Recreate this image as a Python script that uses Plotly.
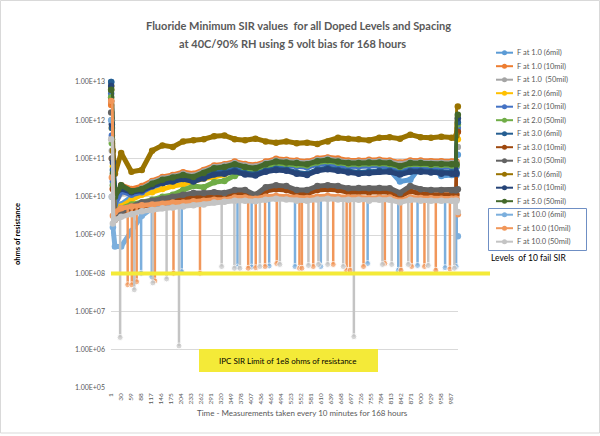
import plotly.graph_objects as go

W, H = 600, 436

# ---------------- data ----------------
MEAS = [1, 3, 6, 12, 30, 60, 90, 120, 150, 180, 210, 240, 270, 300, 330, 360, 390, 420, 450, 480,
        510, 540, 570, 600, 630, 660, 690, 720, 750, 780, 810, 840, 870, 900, 930, 960, 990, 1000, 1004, 1008]

f1_6mil = [1.0e13, 1.0e12, 3.2e10, 3.2e9, 6.3e9, 1.0e10, 1.26e10, 1.6e10, 2.2e10, 2.8e10,
           3.2e10, 3.2e10, 3.8e10, 5.0e10, 5.2e10, 6.3e10, 5.2e10, 5.0e10, 6.3e10, 7.1e10,
           6.9e10, 6.3e10, 6.0e10, 7.1e10, 7.6e10, 6.9e10, 6.3e10, 6.3e10, 6.6e10, 6.6e10,
           5.0e10, 2.5e10, 2.8e10, 6.3e10, 6.3e10, 3.5e10, 3.7e10, 3.7e10, 3.7e10, 1.26e11]
f1_10mil = [2.5e12, 1.0e11, 1.6e10, 7.9e9, 2.0e10, 1.6e10, 1.9e10, 2.6e10, 3.3e10, 3.7e10,
            4.4e10, 4.0e10, 5.0e10, 6.6e10, 7.1e10, 8.3e10, 7.2e10, 6.8e10, 8.3e10, 9.8e10,
            9.3e10, 8.9e10, 8.3e10, 1.0e11, 1.07e11, 1.0e11, 8.9e10, 8.9e10, 9.3e10, 9.3e10,
            8.9e10, 7.9e10, 8.9e10, 8.9e10, 8.5e10, 8.5e10, 8.3e10, 8.3e10, 8.3e10, 5.0e11]
f1_50mil = [4.0e12, 1.6e11, 2.0e10, 6.3e9, 1.26e10, 1.26e10, 1.66e10, 2.4e10, 3.0e10, 3.4e10,
            4.0e10, 3.6e10, 4.6e10, 6.0e10, 6.6e10, 7.6e10, 6.6e10, 6.2e10, 7.6e10, 8.9e10,
            8.5e10, 8.1e10, 7.6e10, 9.1e10, 9.8e10, 8.9e10, 8.1e10, 8.1e10, 8.5e10, 8.5e10,
            8.1e10, 7.2e10, 8.1e10, 8.1e10, 7.8e10, 7.8e10, 7.6e10, 7.6e10, 7.6e10, 2.0e11]
f2_6mil = [7.9e12, 6.3e11, 6.3e10, 5.0e9, 5.6e9, 8.3e9, 1.12e10, 1.32e10, 1.6e10, 1.9e10,
           2.1e10, 2.6e10, 3.0e10, 3.3e10, 3.8e10, 5.2e10, 5.5e10, 5.2e10, 6.8e10, 7.9e10,
           7.6e10, 7.2e10, 6.8e10, 8.1e10, 8.7e10, 7.9e10, 7.2e10, 7.2e10, 7.6e10, 7.6e10,
           7.2e10, 6.3e10, 7.2e10, 7.2e10, 6.9e10, 6.9e10, 6.8e10, 6.8e10, 6.8e10, 3.2e11]
f2_10mil = [5.0e12, 4.0e11, 2.5e10, 6.3e9, 1.4e10, 1.12e10, 1.32e10, 1.86e10, 2.3e10, 2.6e10,
            3.1e10, 2.75e10, 3.5e10, 4.7e10, 5.0e10, 5.9e10, 5.0e10, 4.7e10, 5.9e10, 6.9e10,
            6.6e10, 6.3e10, 5.9e10, 7.1e10, 7.6e10, 6.9e10, 6.3e10, 6.3e10, 6.6e10, 6.6e10,
            6.3e10, 5.2e10, 6.3e10, 6.3e10, 6.0e10, 6.0e10, 5.9e10, 5.9e10, 5.9e10, 6.3e11]
f2_50mil = [4.0e12, 2.5e11, 2.0e10, 4.0e9, 5.0e9, 6.3e9, 7.1e9, 8.3e9, 1.0e10, 1.12e10,
            1.5e10, 1.9e10, 1.78e10, 2.4e10, 2.6e10, 3.5e10, 5.0e10, 5.0e10, 6.3e10, 7.6e10,
            7.2e10, 6.9e10, 6.6e10, 7.9e10, 8.5e10, 7.8e10, 7.1e10, 7.1e10, 7.4e10, 7.4e10,
            7.1e10, 6.0e10, 7.1e10, 7.1e10, 6.8e10, 6.8e10, 6.6e10, 6.6e10, 6.6e10, 7.9e11]
f3_6mil = [1.0e13, 6.3e11, 5.0e10, 1.1e10, 1.7e10, 1.4e10, 1.55e10, 2.0e10, 2.5e10, 2.7e10,
           3.1e10, 2.7e10, 3.2e10, 4.1e10, 4.3e10, 4.9e10, 4.1e10, 3.9e10, 4.8e10, 5.4e10,
           5.1e10, 4.3e10, 4.0e10, 5.1e10, 5.6e10, 5.1e10, 4.6e10, 4.3e10, 4.5e10, 4.8e10,
           4.8e10, 4.1e10, 4.8e10, 4.8e10, 4.6e10, 4.3e10, 4.3e10, 4.3e10, 4.3e10, 8.9e11]
f3_10mil = [3.2e12, 3.2e11, 1.6e10, 2.5e9, 3.2e9, 4.5e9, 5.6e9, 6.3e9, 7.1e9, 7.9e9,
            8.9e9, 1.0e10, 1.0e10, 1.05e10, 1.0e10, 1.2e10, 1.2e10, 9.5e9, 1.4e10, 1.58e10,
            1.5e10, 1.2e10, 1.2e10, 1.5e10, 1.58e10, 1.5e10, 1.32e10, 1.35e10, 1.32e10, 1.35e10,
            1.32e10, 1.05e10, 1.4e10, 1.2e10, 1.15e10, 1.15e10, 1.12e10, 1.12e10, 1.12e10, 5.0e11]
f3_50mil = [1.6e12, 1.0e11, 1.0e10, 3.2e9, 4.0e9, 5.6e9, 7.1e9, 7.9e9, 8.9e9, 1.0e10,
            1.12e10, 1.26e10, 1.26e10, 1.32e10, 1.26e10, 1.5e10, 1.5e10, 1.12e10, 1.78e10, 2.0e10,
            1.9e10, 1.5e10, 1.5e10, 1.9e10, 2.0e10, 1.9e10, 1.66e10, 1.7e10, 1.66e10, 1.7e10,
            1.66e10, 1.26e10, 1.9e10, 1.58e10, 1.5e10, 1.5e10, 1.48e10, 1.48e10, 1.48e10, 1.58e10]
f5_6mil = [6.3e12, 1.0e12, 1.6e11, 4.0e10, 1.4e11, 4.5e10, 5.0e10, 1.6e11, 2.2e11, 2.0e11,
           2.8e11, 3.0e11, 3.2e11, 3.8e11, 4.0e11, 3.2e11, 3.0e11, 3.3e11, 2.8e11, 2.6e11,
           2.8e11, 2.5e11, 2.6e11, 2.4e11, 2.8e11, 3.5e11, 3.3e11, 3.2e11, 3.0e11, 3.5e11,
           3.6e11, 3.3e11, 4.2e11, 3.6e11, 3.5e11, 3.7e11, 3.5e11, 3.5e11, 4.0e11, 2.3e12]
f5_10mil = [7.9e12, 7.9e11, 7.9e10, 1.26e10, 1.6e10, 1.32e10, 1.45e10, 1.9e10, 2.3e10, 2.5e10,
            2.9e10, 2.5e10, 3.0e10, 3.8e10, 4.0e10, 4.6e10, 3.8e10, 3.6e10, 4.5e10, 5.0e10,
            4.8e10, 4.0e10, 3.7e10, 4.8e10, 5.2e10, 4.8e10, 4.3e10, 4.0e10, 4.2e10, 4.5e10,
            4.5e10, 3.8e10, 4.5e10, 4.5e10, 4.3e10, 4.0e10, 4.0e10, 4.0e10, 4.0e10, 1.12e12]
f5_50mil = [6.3e12, 3.2e11, 4.0e10, 1.0e10, 2.0e10, 1.4e10, 1.6e10, 2.2e10, 2.8e10, 3.2e10,
            3.7e10, 3.3e10, 4.2e10, 5.6e10, 6.0e10, 7.1e10, 6.0e10, 5.6e10, 7.1e10, 8.3e10,
            7.9e10, 7.6e10, 7.1e10, 8.5e10, 9.1e10, 8.3e10, 7.6e10, 7.6e10, 7.9e10, 7.9e10,
            7.6e10, 6.3e10, 7.6e10, 7.6e10, 7.2e10, 7.2e10, 7.1e10, 7.1e10, 7.1e10, 1.4e12]
f10_6mil = [1.0e12, 1.0e10, 1.6e9, 5.0e8, 5.0e8, 1.26e9, 3.2e9, 5.0e9, 6.0e9, 6.3e9,
            6.6e9, 7.1e9, 7.6e9, 7.9e9, 7.9e9, 8.9e9, 8.9e9, 8.5e9, 9.5e9, 1.0e10,
            9.5e9, 9.1e9, 8.9e9, 9.5e9, 1.0e10, 9.5e9, 9.1e9, 9.1e9, 8.9e9, 9.1e9,
            9.1e9, 7.6e9, 9.1e9, 8.9e9, 8.7e9, 8.5e9, 8.5e9, 8.5e9, 8.5e9, 9.3e8]
f10_10mil = [3.2e12, 3.2e10, 3.2e9, 4.0e9, 5.0e9, 5.6e9, 6.0e9, 6.3e9, 6.6e9, 7.1e9,
             7.1e9, 7.6e9, 7.9e9, 8.3e9, 8.3e9, 9.5e9, 9.5e9, 8.9e9, 1.0e10, 1.05e10,
             1.0e10, 9.5e9, 9.3e9, 1.0e10, 1.05e10, 1.0e10, 9.5e9, 9.5e9, 9.3e9, 9.5e9,
             9.5e9, 7.9e9, 9.5e9, 9.3e9, 9.1e9, 8.9e9, 8.9e9, 8.9e9, 8.9e9, 3.5e9]
f10_50mil = [3.2e11, 1.0e10, 2.0e9, 2.5e9, 3.0e9, 3.5e9, 4.2e9, 4.5e9, 5.0e9, 5.2e9,
             5.6e9, 6.0e9, 6.3e9, 7.1e9, 7.4e9, 7.9e9, 7.9e9, 7.6e9, 8.3e9, 8.9e9,
             8.5e9, 7.9e9, 7.9e9, 8.5e9, 8.9e9, 8.5e9, 8.3e9, 8.3e9, 7.9e9, 8.3e9,
             8.3e9, 7.1e9, 8.3e9, 7.9e9, 7.9e9, 7.9e9, 7.9e9, 7.9e9, 7.9e9, 4.0e9]

# single-measurement drops of the 10.0 series (measurement no., drop value, level before drop)
f10_6mil_drop_at = [88, 119, 206, 368, 409, 460, 535, 610, 746, 835, 891, 971, 1003]
f10_6mil_drop_low = [1.0e8, 8.1e7, 1.1e8, 1.45e8, 1.45e8, 1.55e8, 1.5e8, 1.5e8, 1.8e8, 1.2e8, 1.6e8, 1.4e8, 1.5e8]
f10_6mil_drop_top = [3.5e9, 5.0e9, 6.6e9, 8.9e9, 8.5e9, 9.5e9, 9.1e9, 9.5e9, 8.9e9, 7.6e9, 8.9e9, 8.5e9, 8.5e9]

f10_10mil_drop_at = [49, 61, 75, 128, 182, 259, 399, 421, 448, 482, 548, 555, 588, 646, 685, 695, 734,
                     796, 843, 874, 911, 944, 985]
f10_10mil_drop_low = [5.0e7, 5.0e7, 6.0e7, 6.3e7, 1.0e8, 1.0e8, 1.35e8, 1.4e8, 1.5e8, 1.8e8, 1.35e8, 1.35e8,
                      1.5e8, 1.7e8, 1.2e8, 1.2e8, 1.5e8, 1.8e8, 1.2e8, 1.5e8, 1.5e8, 1.2e8, 1.3e8]
f10_10mil_drop_top = [5.6e9, 5.6e9, 6.0e9, 6.3e9, 7.1e9, 7.6e9, 9.0e9, 9.0e9, 9.5e9, 1.0e10, 9.5e9, 9.3e9,
                      9.5e9, 1.0e10, 9.5e9, 9.5e9, 9.3e9, 9.5e9, 8.5e9, 9.3e9, 9.2e9, 9.0e9, 8.9e9]

f10_50mil_drop_at = [27, 68, 122, 162, 198, 322, 359, 375, 433, 491, 574, 603, 630, 675, 706, 789, 816,
                     864, 922, 998]
f10_50mil_drop_low = [2.1e6, 3.7e7, 5.6e7, 7.1e7, 1.26e6, 1.5e8, 1.35e8, 1.35e8, 1.5e8, 1.7e8, 1.6e8, 1.7e8,
                      1.7e8, 1.5e8, 2.2e6, 1.7e8, 1.7e8, 1.7e8, 1.6e8, 1.35e8]
f10_50mil_drop_top = [3.0e9, 3.5e9, 4.5e9, 5.0e9, 5.4e9, 7.4e9, 7.9e9, 7.9e9, 8.3e9, 8.9e9, 7.9e9, 8.5e9,
                      8.9e9, 8.3e9, 8.3e9, 8.3e9, 8.3e9, 8.3e9, 7.9e9, 7.9e9]

NAMES = ["F at 1.0 (6mil)", "F at 1.0 (10mil)", "F at 1.0  (50mil)",
         "F at 2.0 (6mil)", "F at 2.0 (10mil)", "F at 2.0 (50mil)",
         "F at 3.0 (6mil)", "F at 3.0 (10mil)", "F at 3.0 (50mil)",
         "F at 5.0 (6mil)", "F at 5.0 (10mil)", "F at 5.0 (50mil)",
         "F at 10.0 (6mil)", "F at 10.0 (10mil)", "F at 10.0 (50mil)"]

X_TICKS = [1, 30, 59, 88, 117, 146, 175, 204, 233, 262, 291, 320, 349, 378, 407, 436, 465, 494,
           523, 552, 581, 610, 639, 668, 697, 726, 755, 784, 813, 842, 871, 900, 929, 958, 987]
Y_TICKS = [1e5, 1e6, 1e7, 1e8, 1e9, 1e10, 1e11, 1e12, 1e13]
Y_TICK_TEXT = ["1.00E+05", "1.00E+06", "1.00E+07", "1.00E+08", "1.00E+09",
               "1.00E+10", "1.00E+11", "1.00E+12", "1.00E+13"]

SERIES = [f1_6mil, f1_10mil, f1_50mil, f2_6mil, f2_10mil, f2_50mil, f3_6mil, f3_10mil, f3_50mil,
          f5_6mil, f5_10mil, f5_50mil, f10_6mil, f10_10mil, f10_50mil]
DROPS = {12: (f10_6mil_drop_at, f10_6mil_drop_low, f10_6mil_drop_top),
         13: (f10_10mil_drop_at, f10_10mil_drop_low, f10_10mil_drop_top),
         14: (f10_50mil_drop_at, f10_50mil_drop_low, f10_50mil_drop_top)}

# ---------------- style ----------------
COLORS = ["#5B9BD5", "#ED7D31", "#A5A5A5", "#FFC000", "#4472C4", "#70AD47",
          "#255E91", "#9E480E", "#636363", "#997300", "#264478", "#43682B",
          "#7CAFDD", "#F1975A", "#C4C4C4"]
FONT = "Lato"
TXT = "#595959"
YEL = "#F4EA38"

fig = go.Figure()
for i, (name, vals) in enumerate(zip(NAMES, SERIES)):
    fig.add_trace(go.Scatter(x=MEAS, y=vals, name=name, mode="lines+markers",
                             line=dict(color=COLORS[i], width=5),
                             marker=dict(color=COLORS[i], size=6.5),
                             cliponaxis=False, showlegend=False, hoverinfo="skip"))
    if i in DROPS:
        at, low, top = DROPS[i]
        xs, ys, sz = [], [], []
        for a, lo, tp in zip(at, low, top):
            xs += [a, a, None]
            ys += [tp, lo, None]
            sz += [0, 6, 0]
        fig.add_trace(go.Scatter(x=xs, y=ys, mode="lines+markers",
                                 line=dict(color=COLORS[i], width=2.5),
                                 marker=dict(color=COLORS[i], size=sz),
                                 cliponaxis=False, showlegend=False, hoverinfo="skip"))


def px(x):
    return x / W


def py(y):
    return 1 - y / H


shapes = []
annos = []

# outer chart border
shapes.append(dict(type="rect", xref="paper", yref="paper", x0=px(0.5), x1=px(599.5),
                   y0=py(433), y1=py(0.5), line=dict(color="#D9D9D9", width=1)))
# yellow 1e8 limit line
shapes.append(dict(type="line", xref="paper", yref="paper", x0=px(111), x1=px(490),
                   y0=py(273.5), y1=py(273.5), line=dict(color=YEL, width=4), layer="above"))
# yellow label box
shapes.append(dict(type="rect", xref="paper", yref="paper", x0=px(199), x1=px(378),
                   y0=py(372), y1=py(349), line=dict(width=0), fillcolor=YEL, layer="above"))
annos.append(dict(xref="paper", yref="paper", x=px(288), y=py(360.5), showarrow=False,
                  text="IPC SIR Limit of 1e8 ohms of resistance",
                  font=dict(family=FONT, size=8, color="#000000"), xanchor="center", yanchor="middle"))

# titles
annos.append(dict(xref="paper", yref="paper", x=px(298), y=py(25), showarrow=False,
                  text="Fluoride Minimum SIR values  for all Doped Levels and Spacing",
                  font=dict(family=FONT, size=11, color=TXT, weight="bold"), xanchor="center", yanchor="middle"))
annos.append(dict(xref="paper", yref="paper", x=px(292), y=py(43), showarrow=False,
                  text="at 40C/90% RH using 5 volt bias for 168 hours",
                  font=dict(family=FONT, size=11, color=TXT, weight="bold"), xanchor="center", yanchor="middle"))
annos.append(dict(xref="paper", yref="paper", x=px(302), y=py(413), showarrow=False,
                  text="Time - Measurements taken every 10 minutes for 168 hours",
                  font=dict(family=FONT, size=8, color=TXT), xanchor="center", yanchor="middle"))
annos.append(dict(xref="paper", yref="paper", x=px(17), y=py(234), showarrow=False, textangle=-90,
                  text="ohms of resistance",
                  font=dict(family=FONT, size=7.5, color="#000000", weight="bold"), xanchor="center", yanchor="middle"))
annos.append(dict(xref="paper", yref="paper", x=px(489), y=py(258), showarrow=False,
                  text="Levels  of 10 fail SIR",
                  font=dict(family=FONT, size=8.5, color="#000000"), xanchor="left", yanchor="middle"))

# custom legend
for i, name in enumerate(NAMES):
    yy = 52.7 + 13.5 * i
    shapes.append(dict(type="line", xref="paper", yref="paper", x0=px(496), x1=px(513),
                       y0=py(yy), y1=py(yy), line=dict(color=COLORS[i], width=2)))
    shapes.append(dict(type="circle", xref="paper", yref="paper", x0=px(502), x1=px(507),
                       y0=py(yy + 2.5), y1=py(yy - 2.5), line=dict(color=COLORS[i], width=0),
                       fillcolor=COLORS[i]))
    annos.append(dict(xref="paper", yref="paper", x=px(515), y=py(yy), showarrow=False, text=name,
                      font=dict(family=FONT, size=7.5, color=TXT), xanchor="left", yanchor="middle"))
shapes.append(dict(type="rect", xref="paper", yref="paper", x0=px(488.5), x1=px(586.5),
                   y0=py(250.5), y1=py(208.5), line=dict(color="#6F8FC4", width=1)))

fig.update_layout(
    width=W, height=H, margin=dict(l=0, r=0, t=0, b=0, pad=0),
    paper_bgcolor="white", plot_bgcolor="white", showlegend=False,
    font=dict(family=FONT, color=TXT),
    xaxis=dict(domain=[111 / W, 458 / W], range=[0.5, 1008.5], tickmode="array",
               tickvals=X_TICKS, ticktext=[str(v) for v in X_TICKS], tickangle=-90,
               tickfont=dict(family=FONT, size=6.5, color=TXT), showgrid=False, zeroline=False,
               showline=False, ticks="", automargin=False, ticklabelstandoff=3),
    yaxis=dict(type="log", domain=[(H - 388) / H, (H - 82) / H], range=[5, 13], tickmode="array",
               tickvals=Y_TICKS, ticktext=Y_TICK_TEXT,
               tickfont=dict(family=FONT, size=7, color=TXT), showgrid=True, gridcolor="#D9D9D9",
               gridwidth=1, zeroline=False, showline=False, ticks="", automargin=False,
               ticklabelstandoff=5),
    shapes=shapes, annotations=annos,
)

fig.write_html("out.html", config={"displayModeBar": False},
               post_script="document.body.style.margin='0';")
